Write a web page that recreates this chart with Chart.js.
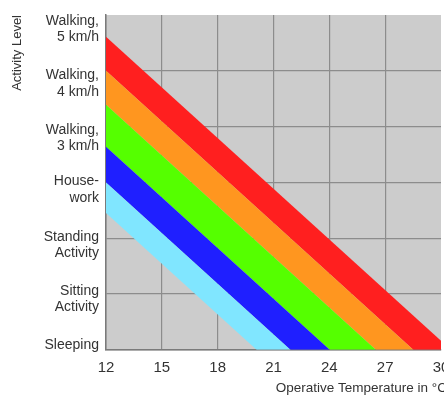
<!DOCTYPE html>
<html><head><meta charset="utf-8">
<script src="https://cdn.jsdelivr.net/npm/chart.js@4.4.0/dist/chart.umd.min.js"></script>
<style>html,body{margin:0;padding:0;overflow:hidden;background:#fff}
#wrap{width:447px;height:398px;position:relative}</style></head>
<body><div id="wrap"><canvas id="c"></canvas></div>
<script>
// x axis: operative temperature
const tempTicks = [12, 15, 18, 21, 24, 27, 30];
// y axis: activity levels and where their labels sit (activity units)
const activityLabels = [
  ['Sleeping'],
  ['Sitting', 'Activity'],
  ['Standing', 'Activity'],
  ['House-', 'work'],
  ['Walking,', '3 km/h'],
  ['Walking,', '4 km/h'],
  ['Walking,', '5 km/h']
];
const activityPos = [0.09, 0.91, 1.88, 2.87, 3.80, 4.77, 5.74];
// band boundary lines (lowest to highest): activity value at 12 °C and at 30 °C
const edgeAt12 = [2.45, 3.00, 3.64, 4.39, 5.00, 5.61];
const edgeAt30 = [-3.00, -2.45, -1.81, -1.06, -0.45, 0.16];
// fill colour of the band above each boundary's lower neighbour
const bandColors = ['#80e6ff', '#1f1fff', '#55ff00', '#ff961f', '#ff1f1f'];

Chart.defaults.font.family = '"Liberation Sans", Arial, sans-serif';
Chart.defaults.color = '#333';

const datasets = edgeAt12.map((v, i) => ({
  data: [{x: tempTicks[0], y: v}, {x: tempTicks[tempTicks.length - 1], y: edgeAt30[i]}],
  borderColor: 'rgba(0,0,0,0)',
  borderWidth: 0,
  pointRadius: 0,
  backgroundColor: i === 0 ? 'rgba(0,0,0,0)' : bandColors[i - 1],
  fill: i === 0 ? false : '-1'
}));

const bgPlugin = {
  id: 'plotBg',
  beforeDraw(chart) {
    const {ctx, chartArea: a} = chart;
    ctx.save();
    ctx.fillStyle = '#cccccc';
    ctx.fillRect(a.left, a.top, a.right - a.left, a.bottom - a.top);
    ctx.restore();
  }
};

new Chart(document.getElementById('c'), {
  type: 'line',
  data: {datasets},
  plugins: [bgPlugin],
  options: {
    responsive: true,
    maintainAspectRatio: false,
    animation: false,
    layout: {padding: {left: 6, top: 15, right: 0, bottom: 0}},
    plugins: {
      legend: {display: false},
      tooltip: {enabled: false},
      title: {
        display: true,
        position: 'bottom',
        align: 'end',
        text: 'Operative Temperature in °C',
        font: {size: 13.5, weight: 'normal'},
        color: '#333',
        padding: {top: 0, bottom: 2}
      }
    },
    scales: {
      x: {
        type: 'linear',
        min: 12, max: 30,
        z: 1,
        afterBuildTicks: ax => { ax.ticks = tempTicks.map(v => ({value: v})); },
        afterFit: ax => { ax.paddingLeft = 0; ax.paddingRight = 6; ax.height = 30; },
        ticks: {font: {size: 15}, padding: 9, color: '#333'},
        grid: {
          drawTicks: false,
          lineWidth: 1.2,
          color: c => (c.tick && c.tick.value === 30) ? 'rgba(0,0,0,0)' : '#8c8c8c'
        },
        border: {color: '#7a7a7a', width: 1.5}
      },
      y: {
        type: 'linear',
        min: 0, max: 6,
        z: 1,
        weight: 0,
        position: 'left',
        afterFit: ax => { ax.paddingTop = 0; ax.paddingBottom = 0; ax.width = 0; },
        ticks: {display: false, stepSize: 1},
        grid: {
          drawTicks: false,
          lineWidth: 1.2,
          color: c => (c.tick && c.tick.value === 6) ? 'rgba(0,0,0,0)' : '#8c8c8c'
        },
        border: {color: '#7a7a7a', width: 1.5}
      },
      yl: {
        type: 'linear',
        min: 0, max: 6,
        weight: 1,
        position: 'left',
        afterBuildTicks: ax => { ax.ticks = activityPos.map(v => ({value: v})); },
        afterFit: ax => { ax.paddingTop = 0; ax.paddingBottom = 0; ax.width = 100; },
        ticks: {
          autoSkip: false,
          padding: 7,
          font: {size: 14, lineHeight: 1.15},
          color: '#333',
          callback: (v, i) => activityLabels[i]
        },
        grid: {display: false, drawTicks: false},
        border: {display: false},
        title: {
          display: true,
          text: 'Activity Level',
          align: 'end',
          font: {size: 13},
          color: '#333',
          padding: {top: 4, bottom: 17}
        }
      }
    }
  }
});
</script></body></html>
